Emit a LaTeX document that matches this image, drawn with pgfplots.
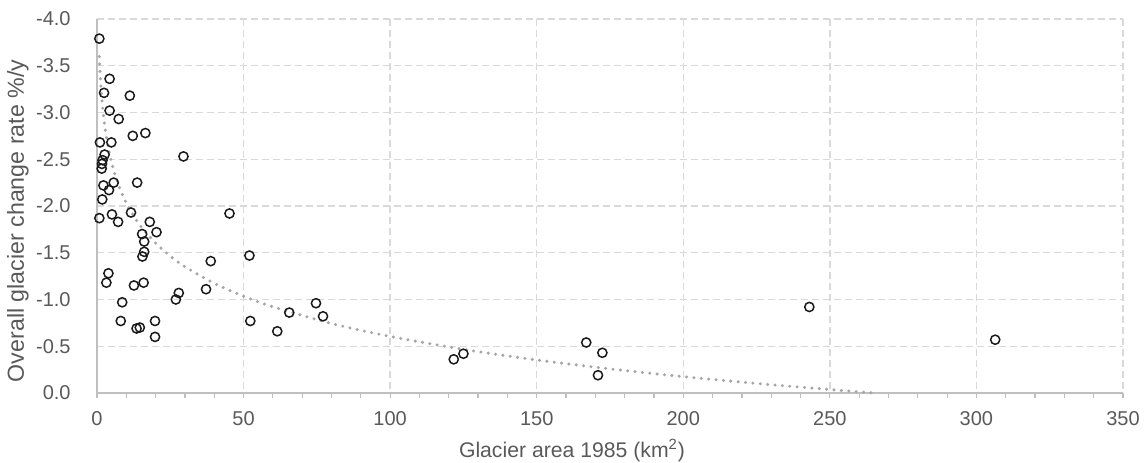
\documentclass[border=0pt]{standalone}
\usepackage{fontspec}
\setmainfont{Liberation Sans}
\usepackage{pgfplots}
\pgfplotsset{compat=1.18}
\definecolor{txt}{HTML}{595959}
\definecolor{gridc}{HTML}{D9D9D9}
\definecolor{axc}{HTML}{BFBFBF}
\definecolor{trend}{HTML}{A6A6A6}
\definecolor{mk}{HTML}{1A1A1A}
\begin{document}
\begin{tikzpicture}
\begin{axis}[
  scale only axis,
  width=513pt, height=187pt,
  xmin=0, xmax=350, ymin=-4, ymax=0,
  y dir=reverse,
  axis x line*=bottom, axis y line*=left,
  axis line style={draw=axc, line width=0.75pt, -},
  xtick={0,50,...,350},
  xticklabels={0,50,100,150,200,250,300,350},
  minor x tick num=4,
  ytick={-4,-3.5,-3,-2.5,-2,-1.5,-1,-0.5,0},
  yticklabels={-4.0,-3.5,-3.0,-2.5,-2.0,-1.5,-1.0,-0.5,0.0},
  tick align=outside,
  major tick length=2.5pt, minor tick length=2.5pt,
  xtick style={draw=axc, line width=0.6pt},
  minor x tick style={draw=axc, line width=0.6pt},
  ytick style={draw=none},
  grid=major,
  major grid style={draw=gridc, line width=0.7pt, dash pattern=on 3.5pt off 2pt},
  tick label style={font=\fontsize{10}{11}\selectfont, text=txt},
  xticklabel style={anchor=north, inner sep=0pt, yshift=-6.5pt},
  yticklabel style={anchor=east, inner sep=0pt, xshift=-10.5pt},
  label style={text=txt},
  xlabel={Glacier area 1985 (km\textsuperscript{2})},
  ylabel={Overall glacier change rate \%/y},
  xlabel style={font=\fontsize{10.6}{12}\selectfont, at={(axis description cs:0.463,-0.155)}, anchor=center},
  ylabel style={font=\fontsize{11.6}{13}\selectfont, at={(axis description cs:-0.077,0.46)}, anchor=center},
  clip=false,
]
\addplot[trend, line width=1.7pt, line cap=round, dash pattern=on 0pt off 3.7pt, smooth] coordinates {
(0.8,-3.598) (1,-3.46) (1.25,-3.322) (1.5,-3.209) (2,-3.030) (2.5,-2.892) (3,-2.779) (4,-2.601) (5,-2.462) (6,-2.349) (8,-2.171) (10,-2.032) (12.5,-1.894) (15,-1.781) (20,-1.603) (25,-1.464) (30,-1.351) (40,-1.173) (50,-1.035) (60,-0.922) (80,-0.743) (100,-0.605) (125,-0.467) (150,-0.353) (175,-0.258) (200,-0.175) (225,-0.102) (250,-0.037) (265,0.0)
};
\addplot[only marks, mark=o, mark size=2.3pt, mark options={draw=mk, line width=0.75pt}] coordinates {
(0.8,-3.79) (4.3,-3.36) (2.4,-3.21) (11.2,-3.18) (4.3,-3.02) (7.4,-2.93) (12.2,-2.75) (16.5,-2.78)
(1.0,-2.68) (4.9,-2.68) (2.6,-2.55) (1.9,-2.49) (1.7,-2.45) (1.6,-2.40) (29.5,-2.53) (2.2,-2.22)
(5.7,-2.25) (4.1,-2.17) (13.7,-2.25) (1.8,-2.07) (0.8,-1.87) (5.1,-1.91) (7.2,-1.83) (11.6,-1.93)
(18.0,-1.83) (20.3,-1.72) (15.4,-1.70) (16.1,-1.62) (16.1,-1.51) (15.5,-1.46) (45.2,-1.92) (52.0,-1.47)
(38.8,-1.41) (3.9,-1.28) (3.2,-1.18) (12.6,-1.15) (15.9,-1.18) (27.9,-1.07) (26.9,-1.00) (37.2,-1.11)
(8.6,-0.97) (8.1,-0.77) (13.5,-0.69) (14.6,-0.70) (19.8,-0.77) (19.8,-0.60) (52.3,-0.77) (61.5,-0.66)
(65.6,-0.86) (74.7,-0.96) (77.1,-0.82) (121.7,-0.36) (125.0,-0.42) (166.9,-0.54) (172.4,-0.43) (170.9,-0.19)
(243.0,-0.92) (306.4,-0.57)
};
\coordinate (ll) at (rel axis cs:0,0);
\coordinate (ur) at (rel axis cs:1,1);
\end{axis}
\pgfresetboundingbox
\path[use as bounding box] ([xshift=-48.5pt,yshift=-35pt]ll) rectangle ([xshift=12.5pt,yshift=9.5pt]ur);
\end{tikzpicture}
\end{document}
